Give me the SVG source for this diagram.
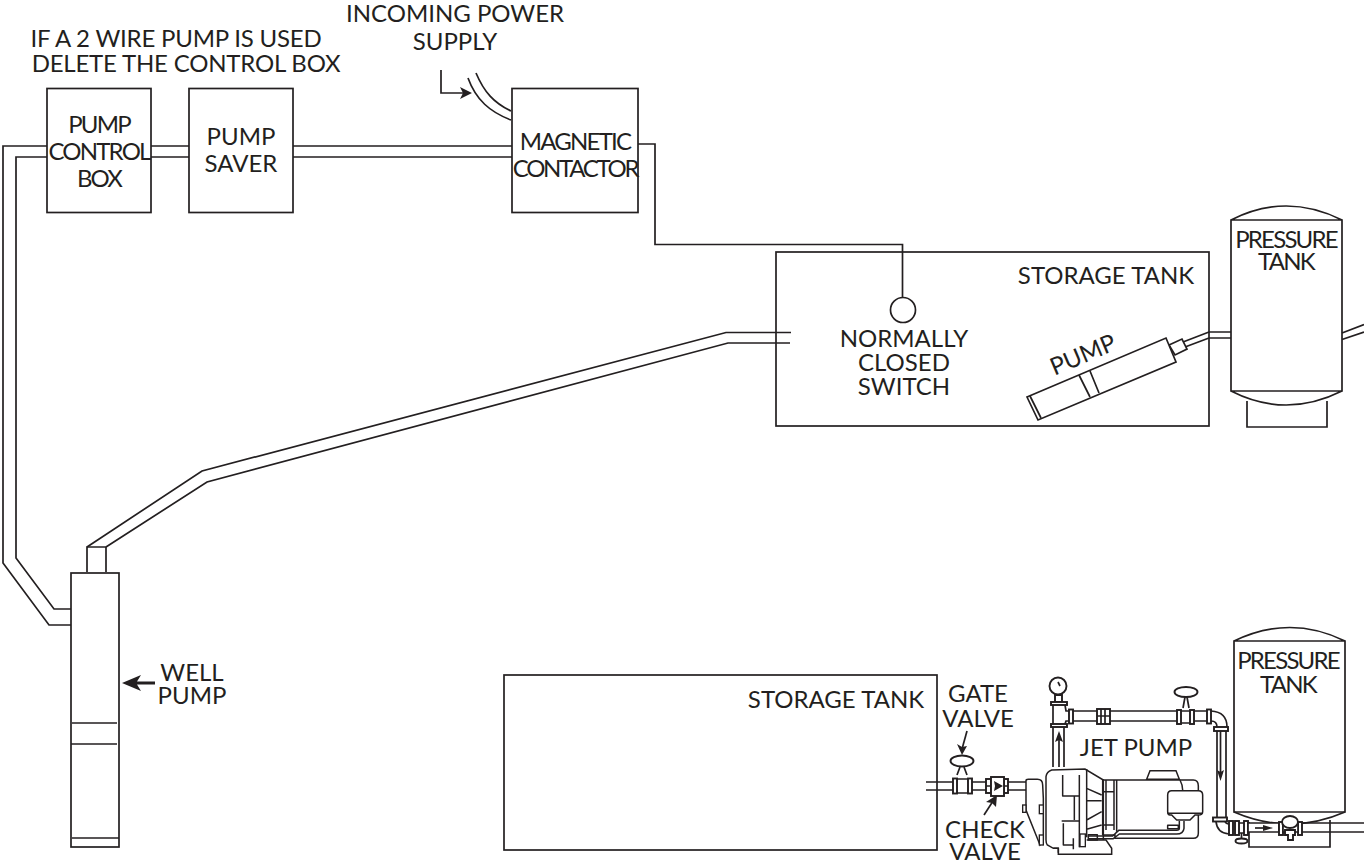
<svg xmlns="http://www.w3.org/2000/svg" width="1364" height="863" viewBox="0 0 1364 863">
<style>
text{font-family:"Lato","Open Sans",sans-serif;font-size:24px;fill:#231f20;text-anchor:middle}
.t{letter-spacing:-1.8px}
.l{fill:none;stroke:#231f20;stroke-width:1.7;stroke-linejoin:miter}
.b{fill:#fff;stroke:#231f20;stroke-width:1.7}
.p{fill:none;stroke:#231f20;stroke-width:4.500;stroke-linejoin:round}
.pw{fill:#fff;stroke:#231f20;stroke-width:4.500}
.s{fill:#fff;stroke:#231f20;stroke-width:1.9}
.f{fill:#231f20;stroke:none}
</style>
<rect width="1364" height="863" fill="#fff"/>
<text x="176" y="47" id="note1" style="letter-spacing:-.2px">IF A 2 WIRE PUMP IS USED</text>
<text x="186" y="72" id="note2" style="letter-spacing:-.2px">DELETE THE CONTROL BOX</text>
<g id="connectors">
<path class="l" d="M47 146H3V563L49 625H71M47 157H16V558L54 609H71"/>
<path class="l" d="M151 146H189M151 157H189M293 146H512M293 157H512"/>
<path class="l" d="M468 78C476 100 490 112 511 120M476 73C484 92 494 103 511 111"/>
<path class="l" d="M441 70V93H464"/>
<path class="f" d="M472 93L460 87L463 93L460 99Z"/>
<path class="l" d="M638 144H655V244.500H902.500V297"/>
<path class="l" d="M87 547L202 471L726 332.500H791M106 547L207 482L728 343H790"/>
<path class="l" d="M1209 332H1231M1209 338H1231M1342 333L1364 324.500M1342 339.500L1364 332M1209 332L1183 342M1209 338L1185 347"/>
<path class="l" d="M926 782H953M926 790H953"/>
<path class="f" d="M122 683L141 675L137 681.500H155V684.500H137L141 691Z"/>
<path class="l" d="M967 731L962 749"/>
<path class="f" d="M962 755L957 744L962 747L967 746Z"/>
<path class="l" d="M984 815L995 798"/>
<path class="f" d="M997 795L996 807L992 803L986 802Z"/>
</g>
<g id="pump-control-box"><rect class="l" x="47" y="88.500" width="104" height="124"/>
<text class="t" x="99" y="133">PUMP</text><text class="t" x="99" y="160">CONTROL</text><text class="t" x="99" y="187">BOX</text></g>
<g id="pump-saver"><rect class="l" x="189" y="88.500" width="104" height="124"/>
<text x="241" y="145">PUMP</text><text x="241" y="172">SAVER</text></g>
<g id="magnetic-contactor"><rect class="l" x="512" y="88.500" width="126" height="124"/>
<text class="t" x="575" y="150">MAGNETIC</text><text x="575" y="177" style="letter-spacing:-2.300px">CONTACTOR</text></g>
<g id="incoming"><text x="455" y="22">INCOMING POWER</text><text x="455" y="50">SUPPLY</text></g>
<g id="storage-tank-1"><rect class="l" x="776" y="252" width="433" height="174"/>
<text x="1106" y="284">STORAGE TANK</text></g>
<g id="switch"><circle class="l" cx="903" cy="310" r="12.500"/>
<text x="904" y="347">NORMALLY</text><text x="904" y="371">CLOSED</text><text x="904" y="395">SWITCH</text></g>
<g id="pump-1">
<path class="b" d="M1169 345L1182 339L1187 349L1175 355Z"/>
<path class="b" d="M1027 397L1166 338L1176 362L1038 420Z"/>
<path class="l" d="M1030 396L1041 418M1079 375L1090 397M1090 371L1099 393"/>
<text x="1083" y="363" transform="rotate(-23 1083 355)">PUMP</text></g>
<g id="pressure-tank-1">
<path class="l" d="M1231 220V391H1342V220ZM1231 220Q1286 192 1342 220M1231 391Q1286 419 1342 391M1247 401V427H1327V401"/>
<text class="t" x="1286" y="248">PRESSURE</text><text class="t" x="1286" y="270">TANK</text></g>
<g id="well-pump">
<rect class="l" x="71" y="573" width="48" height="274"/>
<path class="l" d="M87 572V547H106V572M72 723H117M71 744H117M72 838H119"/>
<text x="192" y="681">WELL</text><text x="192" y="704">PUMP</text></g>
<g id="storage-tank-2"><rect class="l" x="504" y="675" width="433" height="175"/>
<text x="836" y="708">STORAGE TANK</text></g>
<text id="gate-label" x="978" y="702">GATE</text><text x="978" y="727">VALVE</text>
<text id="check-label" x="985" y="838">CHECK</text><text x="985" y="860">VALVE</text>
<text id="jet-label" x="1136" y="756">JET PUMP</text>
<g id="gate-valve">
<ellipse class="s" cx="962" cy="761" rx="11.500" ry="5.500"/>
<path class="l" d="M960 767L957 775M964 767L967 775"/>
<path class="b" d="M957 779H968Q970 786 968 793H957Q955 786 957 779Z"/>
<rect class="s" x="953" y="778.500" width="4" height="15"/><rect class="s" x="968" y="778.500" width="4" height="15"/>
<path class="l" d="M972 782H986M972 790H986"/>
</g>
<g id="check-valve">
<rect class="s" x="986" y="779" width="5" height="14"/><rect class="s" x="1004" y="779" width="4" height="14"/>
<path class="l" d="M986 786H991M1004 786H1008"/>
<rect class="s" x="991" y="777" width="13" height="19"/>
<path class="f" d="M1003 786L994 781L995 786L994 791Z"/>
<path class="l" d="M1008 782H1026M1008 790H1026"/>
</g>
<g id="jet-pump" transform="translate(1020 760) scale(.33333)">
<path class="pw" d="M18 62Q18 58 25 58H52Q68 58 68 75L70 115V240L60 255L18 150Z"/>
<rect class="s" x="8" y="135" width="10" height="22" style="stroke-width:4"/>
<rect class="s" x="58" y="135" width="12" height="26" style="stroke-width:4"/>
<rect class="s" x="58" y="225" width="12" height="30" style="stroke-width:4"/>
<path class="pw" d="M200 240L258 240L275 265V283H115V265H100L82 255Q78 250 78 240V50Q80 35 95 30L195 27L250 60V240Z"/>
<path class="p" d="M128 45V108H178M163 108V180M125 183H178M178 45V262M130 190V255H160V240M160 235V268M200 27V232M200 85L245 105M200 122L245 122M200 180L245 155M200 208L245 195M100 265H115V278"/>
<path class="pw" d="M250 60H520Q535 60 535 78V220Q535 235 520 235H285V225H250Z"/>
<path class="pw" d="M380 58L390 32H468L478 58Z"/>
<path class="p" d="M248 60V225M258 60V210M282 60V210M290 60V215M250 95H282M250 195H282M480 60Q488 75 488 90"/>
<path class="pw" d="M455 92H535Q548 92 548 105V155Q548 165 535 165H525L510 180H470L455 165H450Q443 165 443 155V105Q443 92 455 92Z"/>
<path class="p" d="M443 160H548M443 196H475V206H443Z"/>
<path class="p" d="M478 183V205Q478 211 470 211H296L278 228H205M492 183V205Q490 222 470 222H298L280 236H205"/>
<rect class="s" x="180" y="222" width="16" height="38" style="stroke-width:4"/>
<path class="p" d="M205 224H232V240H205Z"/>
</g>
<g id="discharge">
<path class="l" d="M1053 767V727M1064 767V727M1059 767V738"/>
<path class="f" d="M1059 731L1055 742L1059 740L1063 742Z"/>
<circle class="s" cx="1058" cy="686" r="8.500"/>
<path class="l" d="M1058 682L1060 686"/>
<path class="s" d="M1055 695H1062V702H1055Z"/>
<rect class="s" x="1051" y="702" width="16" height="3"/>
<path class="l" d="M1053 705V724M1065 705L1066 711H1069M1065 724L1066 721H1069"/>
<rect class="s" x="1051" y="724" width="16" height="3"/>
<rect class="s" x="1069" y="709.500" width="4" height="14"/>
<path class="l" d="M1073 711H1097M1073 721H1097"/>
<rect class="s" x="1097" y="709" width="13" height="15"/>
<path class="l" d="M1101 709V724M1105 709V724M1097 716H1110"/>
<path class="l" d="M1110 711H1177M1110 721H1177"/>
<ellipse class="s" cx="1186" cy="692" rx="11.500" ry="5"/>
<path class="l" d="M1185 697L1183 708M1187 697L1189 708"/>
<rect class="s" x="1177" y="710" width="4" height="14"/><rect class="s" x="1190" y="710" width="4" height="14"/>
<path class="l" d="M1181 711H1190M1181 723H1190M1194 711H1207M1194 721H1207"/>
<rect class="s" x="1207" y="709.500" width="4" height="14"/>
<path class="l" d="M1211 711Q1227 712 1227 727M1211 721Q1217 721 1217 727"/>
<rect class="s" x="1214" y="727" width="14" height="4"/>
<path class="l" d="M1217 731V818M1226 731V818M1220.500 731V772"/>
<path class="f" d="M1220.500 781L1217 770L1220.500 772L1224 770Z"/>
</g>
<g id="pressure-tank-2">
<path class="l" d="M1234 641V812H1345V641ZM1234 641Q1290 614 1345 641"/>
<path class="l" d="M1234 812Q1290 836 1345 812M1249 822V847H1330V820"/>
<text class="t" x="1288" y="669">PRESSURE</text><text class="t" x="1288" y="693">TANK</text>
</g>
<g id="tank-valve">
<rect class="s" x="1213" y="817.500" width="14" height="4"/>
<path class="l" d="M1216 821.500Q1217 833 1229 834M1225 821.500Q1226 824 1229 824"/>
<rect class="s" x="1229" y="821" width="4" height="14"/><rect class="s" x="1235" y="821" width="4" height="14"/><rect class="s" x="1244" y="821" width="4" height="14"/>
<path class="l" d="M1239 823H1244M1239 833H1244M1241.500 833V839"/>
<ellipse class="s" cx="1241.500" cy="841" rx="6" ry="2.500"/>
<path class="b" d="M1248 823H1279V832H1248Z"/>
<path class="l" d="M1255 828H1265"/>
<path class="f" d="M1273 828L1263 825V831Z"/>
<rect class="s" x="1279" y="822" width="4" height="13"/><rect class="s" x="1298" y="822" width="4" height="13"/>
<path class="b" d="M1283 824H1298V832H1283Z"/>
<ellipse class="s" cx="1290" cy="822" rx="8" ry="6"/>
<path class="s" d="M1285 830H1295V835H1293V840H1288V835H1285Z"/>
<path class="l" d="M1302 823H1364M1302 832H1364"/>
</g>
</svg>
